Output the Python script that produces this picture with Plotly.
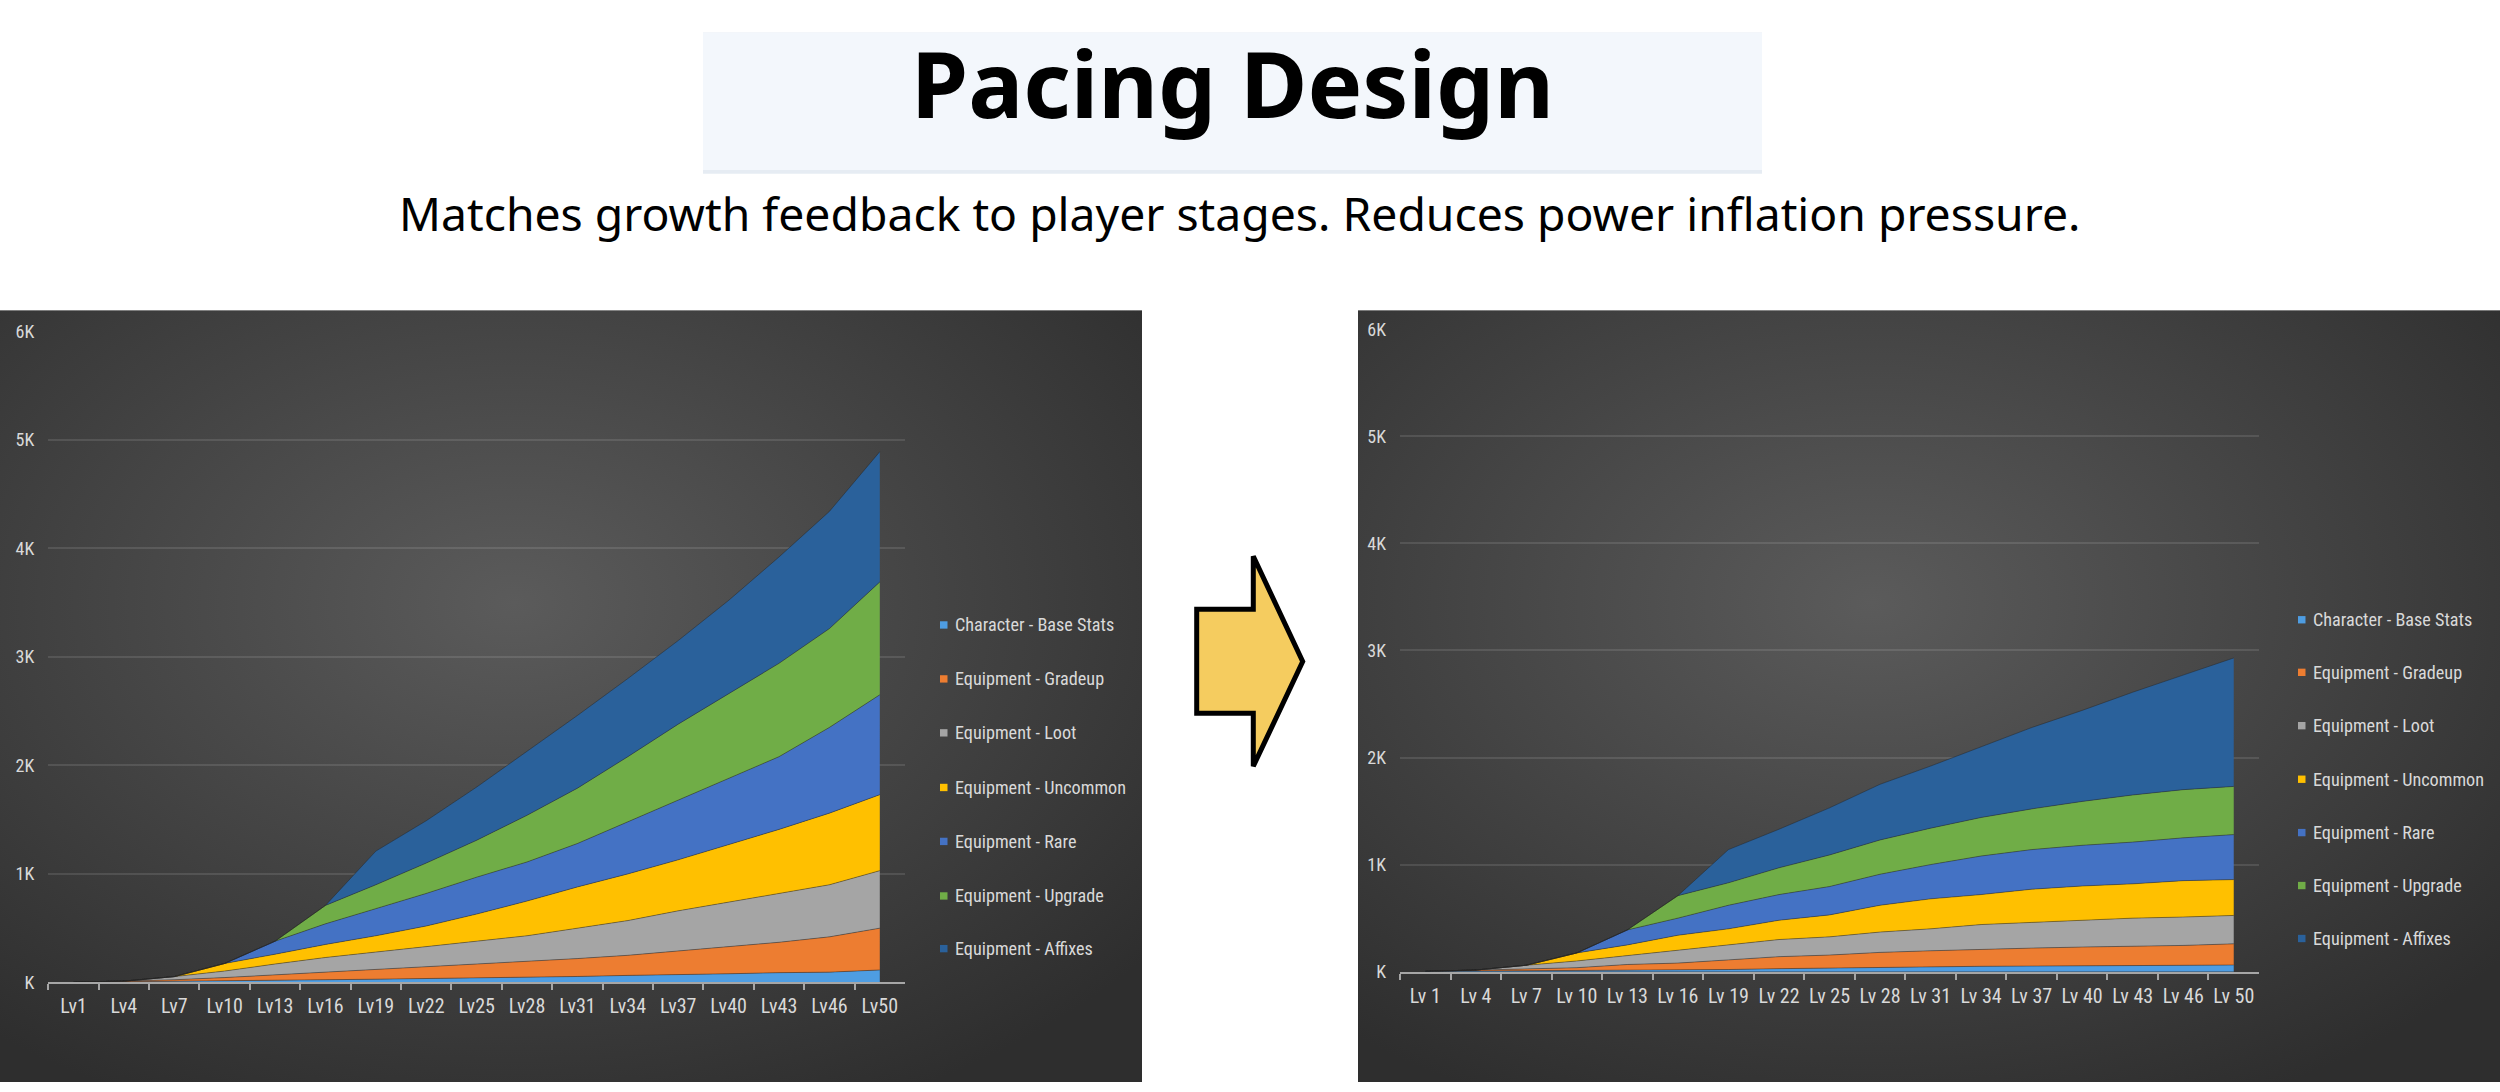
import base64
import plotly.graph_objects as go

# ---------------- data ----------------
levels_before = ["Lv1", "Lv4", "Lv7", "Lv10", "Lv13", "Lv16", "Lv19", "Lv22", "Lv25",
                 "Lv28", "Lv31", "Lv34", "Lv37", "Lv40", "Lv43", "Lv46", "Lv50"]
levels_after = ["Lv 1", "Lv 4", "Lv 7", "Lv 10", "Lv 13", "Lv 16", "Lv 19", "Lv 22", "Lv 25",
                "Lv 28", "Lv 31", "Lv 34", "Lv 37", "Lv 40", "Lv 43", "Lv 46", "Lv 50"]

series_names = ["Character - Base Stats", "Equipment - Gradeup", "Equipment - Loot",
                "Equipment - Uncommon", "Equipment - Rare", "Equipment - Upgrade",
                "Equipment - Affixes"]

# before (left chart)
base_before = [3, 6, 10, 15, 20, 25, 30, 35, 40, 50, 55, 65, 70, 80, 90, 95, 115]
gradeup_before = [0, 6, 15, 30, 50, 65, 85, 105, 125, 140, 165, 185, 220, 250, 280, 325, 385]
loot_before = [0, 0, 29, 60, 100, 140, 165, 190, 215, 240, 280, 320, 370, 410, 450, 480, 530]
uncommon_before = [0, 0, 0, 70, 90, 120, 150, 190, 250, 320, 380, 430, 470, 530, 590, 660, 700]
rare_before = [0, 0, 0, 0, 120, 190, 250, 300, 340, 360, 400, 480, 550, 610, 670, 790, 920]
upgrade_before = [0, 0, 0, 0, 0, 170, 220, 280, 340, 430, 510, 600, 700, 780, 860, 910, 1040]
affixes_before = [0, 0, 0, 0, 0, 0, 310, 390, 490, 590, 670, 720, 770, 860, 980, 1080, 1200]

# after (right chart)
base_after = [3, 5, 8, 10, 12, 15, 20, 28, 35, 42, 45, 50, 52, 55, 58, 60, 62]
gradeup_after = [0, 10, 14, 27, 55, 65, 90, 112, 120, 138, 150, 160, 168, 175, 177, 185, 198]
loot_after = [0, 0, 38, 63, 83, 120, 140, 160, 170, 190, 205, 230, 240, 250, 265, 265, 265]
uncommon_after = [0, 0, 0, 75, 100, 140, 150, 180, 205, 250, 280, 280, 310, 320, 320, 340, 335]
rare_after = [0, 0, 0, 0, 140, 160, 220, 240, 265, 290, 320, 360, 370, 380, 390, 400, 420]
upgrade_after = [0, 0, 0, 0, 0, 210, 210, 250, 295, 320, 340, 360, 380, 410, 440, 450, 450]
affixes_after = [0, 0, 0, 0, 0, 0, 310, 360, 440, 520, 580, 660, 760, 850, 960, 1070, 1200]

y_tickvals = [0, 1000, 2000, 3000, 4000, 5000, 6000]
y_ticktext = ["K", "1K", "2K", "3K", "4K", "5K", "6K"]

title_text = "Pacing Design"
subtitle_text = "Matches growth feedback to player stages. Reduces power inflation pressure."

# ---------------- style ----------------
W, H = 2500, 1092
colors = ["#4E9DE2", "#ED7D31", "#A5A5A5", "#FFC000", "#4472C4", "#70AD47", "#2A619B"]
label_font = "Liberation Sans Narrow, Roboto Condensed, Arial Narrow, Roboto, sans-serif"
light = "#D9D9D9"


def px(x):
    return x / W


def py(y):
    return 1 - y / H


before = [base_before, gradeup_before, loot_before, uncommon_before,
          rare_before, upgrade_before, affixes_before]
after = [base_after, gradeup_after, loot_after, uncommon_after,
         rare_after, upgrade_after, affixes_after]

fig = go.Figure()
for name, vals, col in zip(series_names, before, colors):
    fig.add_trace(go.Scatter(x=levels_before, y=vals, name=name, stackgroup="before",
                             mode="lines", line=dict(width=1, color="rgba(35,35,35,0.45)"),
                             fillcolor=col, showlegend=False, xaxis="x", yaxis="y",
                             hoverinfo="x+y+name"))
for name, vals, col in zip(series_names, after, colors):
    fig.add_trace(go.Scatter(x=levels_after, y=vals, name=name, stackgroup="after",
                             mode="lines", line=dict(width=1, color="rgba(35,35,35,0.45)"),
                             fillcolor=col, showlegend=False, xaxis="x2", yaxis="y2",
                             hoverinfo="x+y+name"))

# gradient panel background (SVG data URI)
svg = ('<svg xmlns="http://www.w3.org/2000/svg" width="1142" height="787" '
       'viewBox="0 0 1142 787" preserveAspectRatio="none"><defs>'
       '<radialGradient id="g" cx="0.45" cy="0.38" r="0.72">'
       '<stop offset="0" stop-color="#5B5B5B"/><stop offset="1" stop-color="#2E2E2E"/>'
       '</radialGradient></defs><rect width="1142" height="787" fill="url(#g)"/></svg>')
src = "data:image/svg+xml;base64," + base64.b64encode(svg.encode()).decode()

images = []
for x0 in (0, 1358):
    images.append(dict(source=src, xref="paper", yref="paper", x=px(x0), y=py(305),
                       sizex=1142 / W, sizey=787 / H, xanchor="left", yanchor="top",
                       sizing="stretch", layer="below"))

axis_common = dict(showgrid=False, showline=True, linecolor="#A6A6A6", linewidth=2,
                   ticks="outside", tickson="boundaries", ticklen=6, tickcolor="#A6A6A6",
                   tickwidth=1.5, ticklabelstandoff=5, tickangle=0,
                   tickfont=dict(family=label_font, size=20, color=light),
                   fixedrange=True, zeroline=False)
yaxis_common = dict(range=[0, 6000], tickvals=y_tickvals, ticktext=y_ticktext,
                    showgrid=True, gridcolor="rgba(255,255,255,0.11)", gridwidth=1.5,
                    showline=False, zeroline=False, ticks="", ticklabelstandoff=13,
                    tickfont=dict(family=label_font, size=18, color=light), fixedrange=True)

fig.update_layout(
    width=W, height=H, margin=dict(l=0, r=0, t=0, b=0),
    paper_bgcolor="white", plot_bgcolor="rgba(0,0,0,0)",
    images=images, showlegend=False,
    xaxis=dict(domain=[px(48.3), px(905)], range=[-0.5, 16.5], anchor="y", **axis_common),
    yaxis=dict(domain=[py(990.5), py(326.5)], anchor="x", **yaxis_common),
    xaxis2=dict(domain=[px(1400), px(2259)], range=[-0.5, 16.5], anchor="y2", **axis_common),
    yaxis2=dict(domain=[py(979.5), py(324.5)], anchor="x2", **yaxis_common),
)

shapes = []
annotations = []
# title box
shapes.append(dict(type="rect", xref="paper", yref="paper", x0=px(703), x1=px(1762),
                   y0=py(166), y1=py(22), fillcolor="#E6ECF3", line=dict(width=0), layer="below"))
shapes.append(dict(type="rect", xref="paper", yref="paper", x0=px(703), x1=px(1762),
                   y0=py(162), y1=py(22), fillcolor="#F3F7FC", line=dict(width=0), layer="below"))
annotations.append(dict(text="<b>" + title_text + "</b>", xref="paper", yref="paper",
                        x=px(1232), y=py(73), xanchor="center", yanchor="middle",
                        showarrow=False, font=dict(family="Noto Sans", size=92, color="black")))
annotations.append(dict(text=subtitle_text, xref="paper", yref="paper",
                        x=px(1239), y=py(206), xanchor="center", yanchor="middle",
                        showarrow=False, font=dict(family="Noto Sans", size=46.3, color="black")))

# arrow
pts = [(1196.7, 610), (1253.3, 610), (1253.3, 556), (1302.7, 663.3),
       (1253.3, 770), (1253.3, 716), (1196.7, 716)]
path = "M " + " L ".join(f"{px(a):.5f},{py(b):.5f}" for a, b in pts) + " Z"
shapes.append(dict(type="path", xref="paper", yref="paper", path=path,
                   fillcolor="#F5CC5F", line=dict(color="black", width=5)))

# legends
legend_specs = [(940, 953, [626, 681, 736, 791.7, 846.7, 902.3, 956]),
                (2298, 2311, [620.7, 674.3, 728.7, 783.3, 837.7, 891.7, 945.7])]
for mx, tx, rows in legend_specs:
    for name, col, ry in zip(series_names, colors, rows):
        shapes.append(dict(type="rect", xref="paper", yref="paper", x0=px(mx), x1=px(mx + 7.5),
                           y0=py(ry + 3.75), y1=py(ry - 3.75), fillcolor=col, line=dict(width=0)))
        annotations.append(dict(text=name, xref="paper", yref="paper", x=px(tx), y=py(ry),
                                xanchor="left", yanchor="middle", showarrow=False,
                                font=dict(family=label_font, size=18.2, color=light)))

fig.update_layout(shapes=shapes, annotations=annotations)
fig.write_html("out.html")
